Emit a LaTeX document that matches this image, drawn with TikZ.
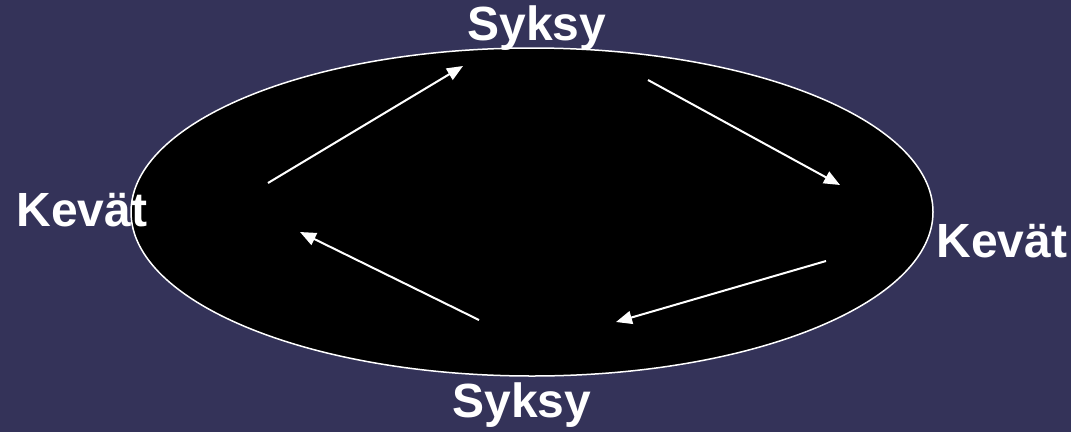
\documentclass[tikz,border=0pt]{standalone}
\usepackage{fontspec}
\setmainfont{Liberation Sans}
\definecolor{SlateNight}{RGB}{52, 51, 89}
\usetikzlibrary{arrows.meta}

\begin{document}
\begin{tikzpicture}[x=1pt, y=-1pt,
  season/.style={text=white, font=\fontsize{48}{54}\selectfont\bfseries, inner sep=0pt},
  cycle arrow/.style={draw=white, line width=2pt, -{Triangle[length=16pt, width=13pt]}}]
\fill[SlateNight] (0,0) rectangle (1071,432);
\useasboundingbox (0,0) rectangle (1071,432);
\draw[white, line width=1.5pt, fill=black] (532,212) ellipse [x radius=401, y radius=164];
% season labels
\node[season] (syksyTop) at (537,28) {Syksy};
\node[season] (kevatLeft) at (82,210) {Kevät};
\node[season] (kevatRight) at (1002,241) {Kevät};
\node[season] (syksyBottom) at (522,405) {Syksy};
% arrow ends
\coordinate (a1) at (268,183);
\coordinate (a2) at (463,66);
\coordinate (a3) at (648,80);
\coordinate (a4) at (840,185);
\coordinate (a5) at (826,261);
\coordinate (a6) at (616,322);
\coordinate (a7) at (479,320);
\coordinate (a8) at (300,232);
\draw[cycle arrow] (a1) -- (a2);
\draw[cycle arrow] (a3) -- (a4);
\draw[cycle arrow] (a5) -- (a6);
\draw[cycle arrow] (a7) -- (a8);
\end{tikzpicture}
\end{document}
